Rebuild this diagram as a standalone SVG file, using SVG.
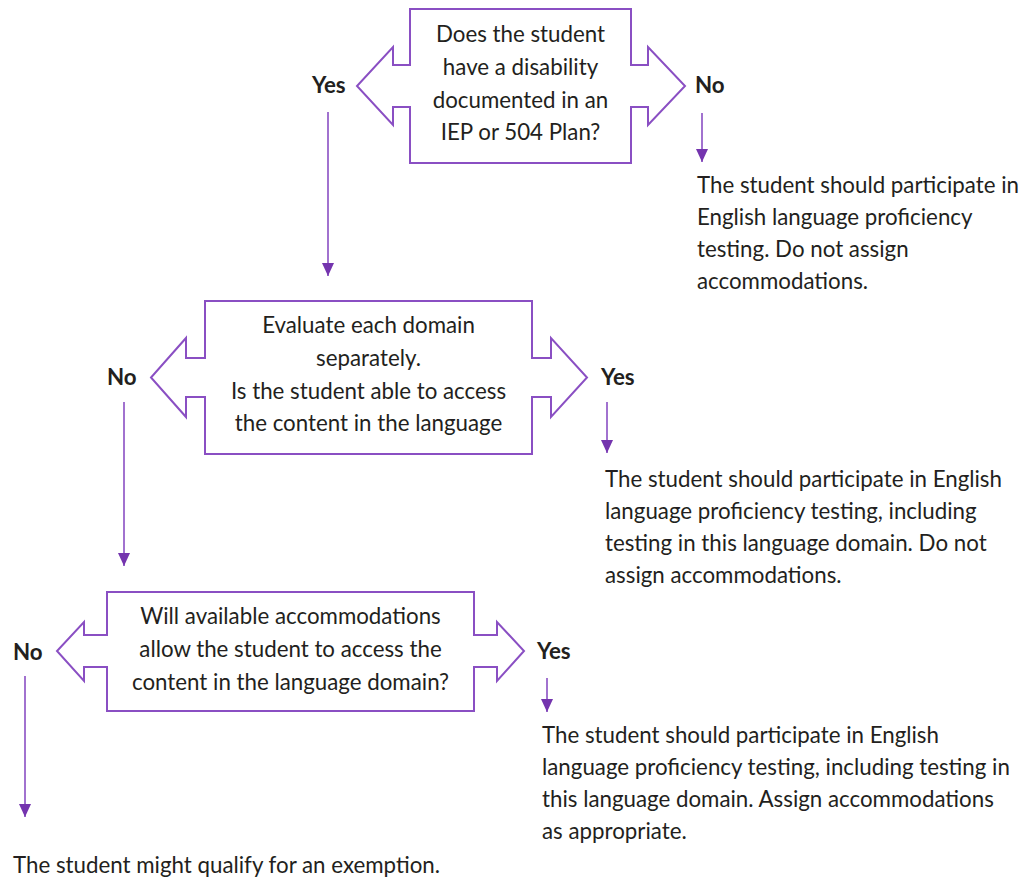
<svg xmlns="http://www.w3.org/2000/svg" width="1028" height="882" viewBox="0 0 1028 882">
<defs>
<marker id="ah" markerUnits="userSpaceOnUse" markerWidth="14" markerHeight="14" viewBox="0 0 14 14" refX="13" refY="7" orient="auto">
<path d="M0,1 L13,7 L0,13 Z" fill="#7434AE"/>
</marker>
<style>
.shape{fill:#fff;stroke:#8A4FC3;stroke-width:2;stroke-linejoin:miter}
.conn{stroke:#8A4FC3;stroke-width:1.6;fill:none}
.t{font-family:Lato,"Noto Sans",sans-serif;font-size:22.3px;fill:#231F20}
.c{text-anchor:middle}
.b{font-weight:bold}
</style>
</defs>
<rect width="1028" height="882" fill="#fff"/>

<g id="q1">
<path class="shape" d="M410,9 H631 V65 H648 V47 L685,86 L648,125 V107 H631 V163 H410 V107 H393 V125 L357,86 L393,47 V65 H410 Z"/>
<text class="t c" x="520.5" y="42">Does the student</text>
<text class="t c" x="520.5" y="75">have a disability</text>
<text class="t c" x="520.5" y="108">documented in an</text>
<text class="t c" x="520.5" y="140">IEP or 504 Plan?</text>
<text class="t b" x="312" y="93">Yes</text>
<text class="t b" x="695" y="93">No</text>
</g>

<g id="r1">
<text class="t" x="697" y="193">The student should participate in</text>
<text class="t" x="697" y="225">English language proficiency</text>
<text class="t" x="697" y="257">testing. Do not assign</text>
<text class="t" x="697" y="289">accommodations.</text>
</g>

<g id="q2">
<path class="shape" d="M205,301 H532 V358 H551 V338 L587,377.5 L551,417 V397 H532 V454 H205 V397 H186 V417 L151,377.5 L186,338 V358 H205 Z"/>
<text class="t c" x="368.5" y="333">Evaluate each domain</text>
<text class="t c" x="368.5" y="366">separately.</text>
<text class="t c" x="368.5" y="399">Is the student able to access</text>
<text class="t c" x="368.5" y="431">the content in the language</text>
<text class="t b" x="107" y="385">No</text>
<text class="t b" x="601" y="385">Yes</text>
</g>

<g id="r2">
<text class="t" x="605" y="487">The student should participate in English</text>
<text class="t" x="605" y="519">language proficiency testing, including</text>
<text class="t" x="605" y="551">testing in this language domain. Do not</text>
<text class="t" x="605" y="583">assign accommodations.</text>
</g>

<g id="q3">
<path class="shape" d="M107,592 H474 V635 H497 V622 L524,651 L497,681 V667 H474 V711 H107 V667 H84 V681 L57,651 L84,622 V635 H107 Z"/>
<text class="t c" x="290.5" y="624">Will available accommodations</text>
<text class="t c" x="290.5" y="657">allow the student to access the</text>
<text class="t c" x="290.5" y="690">content in the language domain?</text>
<text class="t b" x="13" y="660">No</text>
<text class="t b" x="537" y="659">Yes</text>
</g>

<g id="r3">
<text class="t" x="542" y="743">The student should participate in English</text>
<text class="t" x="542" y="775">language proficiency testing, including testing in</text>
<text class="t" x="542" y="807">this language domain. Assign accommodations</text>
<text class="t" x="542" y="839">as appropriate.</text>
</g>

<g id="r4">
<text class="t" x="13" y="873">The student might qualify for an exemption.</text>
</g>

<g id="connectors">
<line class="conn" x1="328" y1="112" x2="328" y2="276" marker-end="url(#ah)"/>
<line class="conn" x1="702" y1="113" x2="702" y2="162" marker-end="url(#ah)"/>
<line class="conn" x1="607" y1="402" x2="607" y2="453" marker-end="url(#ah)"/>
<line class="conn" x1="124" y1="402" x2="124" y2="566" marker-end="url(#ah)"/>
<line class="conn" x1="547" y1="678" x2="547" y2="712" marker-end="url(#ah)"/>
<line class="conn" x1="25" y1="676" x2="25" y2="817" marker-end="url(#ah)"/>
</g>
</svg>
